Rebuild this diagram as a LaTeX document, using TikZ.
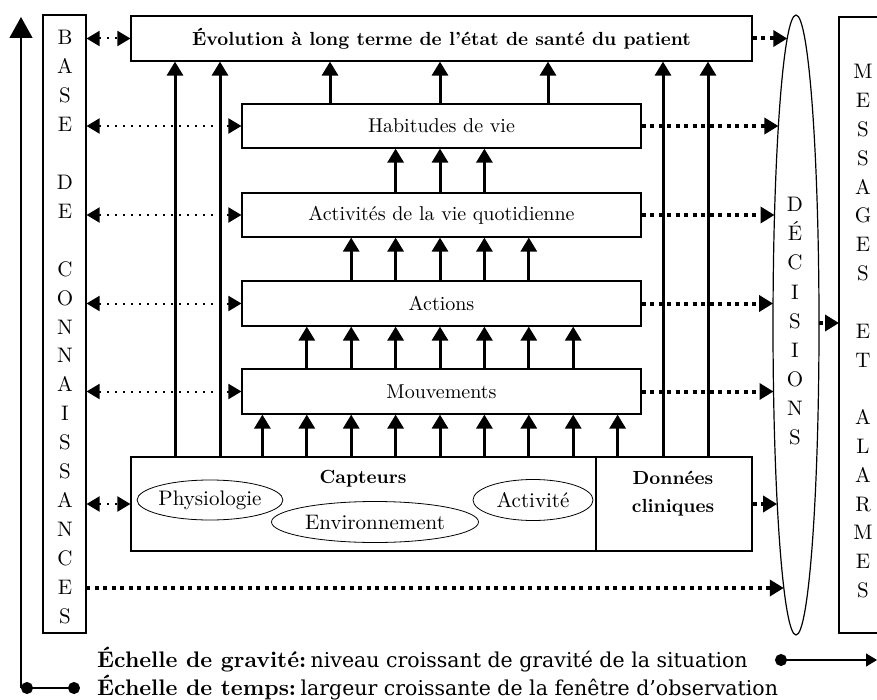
\documentclass[tikz,border=0pt]{standalone}
\usepackage{fontspec}
\setmainfont{lmroman10}[Extension=.otf, UprightFont=*-regular, BoldFont=*-bold, ItalicFont=*-italic, BoldItalicFont=*-bolditalic]
\newfontfamily\djs{DejaVu Serif}
\usetikzlibrary{arrows.meta,shapes.geometric}
\begin{document}
\begin{tikzpicture}[x=1pt,y=-1pt,
  box/.style={draw, line width=1.2pt, inner sep=0pt, font=\fontsize{20}{24}\selectfont},
  lbl/.style={font=\fontsize{21}{24}\selectfont, inner sep=0pt},
  oval/.style={ellipse, draw, line width=0.8pt, inner sep=0pt, font=\fontsize{21}{24}\selectfont},
  varr/.style={line width=3pt, -{Triangle[length=14pt,width=16pt]}},
  ldots/.style={line width=2pt, dash pattern=on 2pt off 6pt, {Triangle[length=13pt,width=15pt]}-{Triangle[length=13pt,width=15pt]}},
  rdots/.style={line width=4pt, dash pattern=on 4pt off 4.5pt, -{Triangle[length=14pt,width=16pt]}},
  axisline/.style={line width=1.3pt},
]
\useasboundingbox (0,0) rectangle (877,700);

% --- knowledge base column
\node[box, minimum width=43pt, minimum height=618pt] (base) at (64.5,324) {};
\foreach \l [count=\i from 0] in {B,A,S,E,{},D,E,{},C,O,N,N,A,I,S,S,A,N,C,E,S}
  \node[lbl, anchor=base] (bl\i) at (65, 45+28.9*\i) {\l};

% --- central boxes
\node[box, minimum width=621pt, minimum height=45pt, font=\fontsize{19}{24}\selectfont\bfseries] (title) at (441.5,38.5) {Évolution à long terme de l’état de santé du patient};
\node[box, minimum width=399pt, minimum height=44pt] (hab) at (441.5,126) {Habitudes de vie};
\node[box, minimum width=399pt, minimum height=44pt] (avq) at (441.5,215) {Activités de la vie quotidienne};
\node[box, minimum width=399pt, minimum height=45pt] (act) at (441.5,303.5) {Actions};
\node[box, minimum width=399pt, minimum height=45pt] (mouv) at (441.5,391.5) {Mouvements};
\node[box, minimum width=465pt, minimum height=94pt] (capt) at (363.5,504) {};
\node[box, minimum width=156pt, minimum height=94pt] (donn) at (674,504) {};
\node[lbl, font=\fontsize{19}{24}\selectfont\bfseries] (capttxt) at (363,479) {Capteurs};
\node[lbl, align=center, font=\fontsize{19}{28}\selectfont\bfseries] (donntxt) at (673,494) {Données\\cliniques};
\node[oval, minimum width=145pt, minimum height=40pt] (phys) at (210,500) {Physiologie};
\node[oval, minimum width=207pt, minimum height=41pt] (env) at (375,522) {Environnement};
\node[oval, minimum width=120pt, minimum height=41pt] (acti) at (533,500) {Activité};

% --- decisions ellipse
\node[ellipse, draw, line width=1.2pt, minimum width=46pt, minimum height=620pt, inner sep=0pt] (dec) at (796,325) {};
\foreach \l [count=\i from 0] in {D,É,C,I,S,I,O,N,S}
  \node[lbl, anchor=base] (dl\i) at (795, 212+29*\i) {\l};

% --- messages column
\draw[line width=1.2pt] (877,17) -- (839,17) -- (839,633) -- (877,633);
\coordinate (msgw) at (839,323);
\foreach \l [count=\i from 0] in {M,E,S,S,A,G,E,S,{},E,T,{},A,L,A,R,M,E,S}
  \node[lbl, anchor=base] (ml\i) at (863, 79+28.8*\i) {\l};

% --- points on the decisions ellipse
\coordinate (d1) at (787.3,38.5);
\coordinate (d2) at (778.4,126);
\coordinate (d3) at (774.5,215);
\coordinate (d4) at (773.1,303.5);
\coordinate (d5) at (773.5,391.5);
\coordinate (d6) at (777.1,504);
\coordinate (d7) at (783.8,588);
\coordinate (d8) at (819,323);
\coordinate (b7) at (86,588);

% --- vertical arrows
\foreach \x in {175,220} \draw[varr] (\x,0 |- capt.north) -- (\x,0 |- title.south);
\foreach \x in {663,708} \draw[varr] (\x,0 |- donn.north) -- (\x,0 |- title.south);
\foreach \x in {330,440,548} \draw[varr] (\x,0 |- hab.north) -- (\x,0 |- title.south);
\foreach \k in {-1,0,1} \draw[varr] (440+44.4*\k,0 |- avq.north) -- (440+44.4*\k,0 |- hab.south);
\foreach \k in {-2,...,2} \draw[varr] (440+44.4*\k,0 |- act.north) -- (440+44.4*\k,0 |- avq.south);
\foreach \k in {-3,...,3} \draw[varr] (440+44.4*\k,0 |- mouv.north) -- (440+44.4*\k,0 |- act.south);
\foreach \k in {-4,...,4} \draw[varr] (440+44.4*\k,0 |- capt.north) -- (440+44.4*\k,0 |- mouv.south);

% --- left dotted double arrows
\foreach \n in {title,hab,avq,act,mouv,capt}
  \draw[ldots] (base.east |- \n.west) -- (\n.west);

% --- right dotted arrows
\draw[rdots] (title.east) -- (d1);
\draw[rdots] (hab.east) -- (d2);
\draw[rdots] (avq.east) -- (d3);
\draw[rdots] (act.east) -- (d4);
\draw[rdots] (mouv.east) -- (d5);
\draw[rdots] (donn.east) -- (d6);
\draw[rdots] (b7) -- (d7);
\draw[rdots] (d8) -- (msgw);

% --- scales
\coordinate (ax0) at (21,688);
\coordinate (ax1) at (80,688);
\coordinate (axtop) at (21,17);
\coordinate (g0) at (775,660);
\coordinate (g1) at (877,660);
\draw[axisline, -{Triangle[length=21pt,width=23pt]}] (ax0) -- (axtop);
\draw[axisline, {Circle[length=12pt]}-{Circle[length=12pt]}] (ax0) -- (ax1);
\draw[axisline, {Circle[length=12pt]}-{Triangle[length=11pt,width=13pt]}] (g0) -- (g1);
\node[anchor=west, inner sep=0pt] (grav) at (97,660) {{\fontsize{22.5}{24}\selectfont\bfseries Échelle de gravité:} {\djs\fontsize{20.5}{24}\selectfont niveau croissant de gravité de la situation}};
\node[anchor=west, inner sep=0pt] (temps) at (97,688) {{\fontsize{22.5}{24}\selectfont\bfseries Échelle de temps:} {\djs\fontsize{20.5}{24}\selectfont largeur croissante de la fenêtre d’observation}};
\end{tikzpicture}
\end{document}
